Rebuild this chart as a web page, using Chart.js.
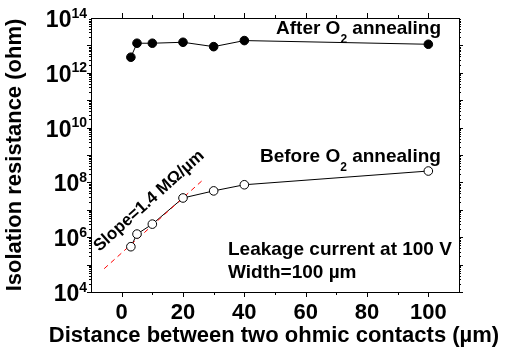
<!DOCTYPE html>
<html>
<head>
<meta charset="utf-8">
<script src="https://cdn.jsdelivr.net/npm/chart.js@4"></script>
<style>
  html, body { margin: 0; padding: 0; background: #fff; }
  canvas { display: block; }
</style>
</head>
<body>
<canvas id="chart" width="508" height="349"></canvas>
<script>
// data
const xAfter = [3, 5, 10, 20, 30, 40, 100];
const yAfter = [3.7e12, 1.2e13, 1.2e13, 1.3e13, 9e12, 1.5e13, 1.1e13];
const xBefore = [3, 5, 10, 20, 30, 40, 100];
const yBefore = [4.5e5, 1.3e6, 3.0e6, 2.7e7, 4.9e7, 8.2e7, 2.6e8];
const xSlope = [-5.7, 26.6];
const ySlope = [7.1e4, 1.26e8];

const xTicks = [0, 20, 40, 60, 80, 100];
const xMinorTicks = [10, 30, 50, 70, 90];
const yTicks = [1e4, 1e6, 1e8, 1e10, 1e12, 1e14];

const FONT = '"Liberation Sans", Arial, sans-serif';

const pts = (xs, ys) => xs.map((x, i) => ({ x, y: ys[i] }));

// parts: [text, size, dy]
function drawParts(ctx, parts, x, y, align) {
  let w = 0;
  parts.forEach(p => {
    ctx.font = `bold ${p[1]}px ${FONT}`;
    w += ctx.measureText(p[0]).width;
  });
  let cx = align === "center" ? x - w / 2 : align === "right" ? x - w : x;
  ctx.textAlign = "left";
  ctx.textBaseline = "alphabetic";
  parts.forEach(p => {
    ctx.font = `bold ${p[1]}px ${FONT}`;
    ctx.fillText(p[0], cx, y + (p[2] || 0));
    cx += ctx.measureText(p[0]).width;
  });
}

const axesPlugin = {
  id: "axes",
  afterDraw(chart) {
    const { ctx, chartArea: a } = chart;
    const xs = chart.scales.x, ys = chart.scales.y;
    ctx.save();
    ctx.strokeStyle = "#000";
    ctx.fillStyle = "#000";
    ctx.lineWidth = 1;
    ctx.strokeRect(a.left + 0.5, a.top + 0.5, a.right - a.left, a.bottom - a.top);

    ctx.beginPath();
    const xTick = (v, len) => {
      const px = Math.round(xs.getPixelForValue(v)) + 0.5;
      ctx.moveTo(px, a.bottom); ctx.lineTo(px, a.bottom + len);
      ctx.moveTo(px, a.top); ctx.lineTo(px, a.top - len);
    };
    const yTick = (v, len) => {
      const py = Math.round(ys.getPixelForValue(v)) + 0.5;
      ctx.moveTo(a.left, py); ctx.lineTo(a.left - len, py);
      ctx.moveTo(a.right, py); ctx.lineTo(a.right + len, py);
    };
    xTicks.forEach(v => xTick(v, 5));
    xMinorTicks.forEach(v => xTick(v, 3));
    for (let d = 4; d < 14; d++) {
      yTick(Math.pow(10, d), 4);
      for (let m = 2; m <= 9; m++) yTick(m * Math.pow(10, d), 2);
    }
    ctx.stroke();

    // tick labels
    xTicks.forEach(v => {
      drawParts(ctx, [[String(v), 22]], xs.getPixelForValue(v), 319, "center");
    });
    yTicks.forEach(v => {
      const py = ys.getPixelForValue(v);
      drawParts(ctx, [["10", 23], [String(Math.round(Math.log10(v))), 14, -9.5]], 87, py + 9, "right");
    });

    // axis titles
    drawParts(ctx, [["Distance between two ohmic contacts (\u00b5m)", 22]], 274, 342, "center");
    ctx.save();
    ctx.translate(20.5, 155);
    ctx.rotate(-Math.PI / 2);
    ctx.font = `bold 22px ${FONT}`;
    ctx.textAlign = "center";
    ctx.textBaseline = "alphabetic";
    ctx.fillText("Isolation resistance (ohm)", 0, 0);
    ctx.restore();

    // annotations
    drawParts(ctx, [["After O", 19], ["2", 12, 9], [" annealing", 19]], 276, 33.5, "left");
    drawParts(ctx, [["Before O", 19], ["2", 12, 9], [" annealing", 19]], 260, 161.5, "left");
    drawParts(ctx, [["Leakage current at 100 V", 19]], 228, 255, "left");
    drawParts(ctx, [["Width=100 \u00b5m", 19]], 228, 278, "left");

    ctx.save();
    ctx.translate(149, 201);
    ctx.rotate(-42 * Math.PI / 180);
    ctx.font = `bold 17px ${FONT}`;
    ctx.textAlign = "center";
    ctx.textBaseline = "middle";
    ctx.fillText("Slope=1.4 M\u03a9/\u00b5m", 0, 0);
    ctx.restore();

    ctx.restore();
  }
};

new Chart(document.getElementById("chart"), {
  type: "scatter",
  data: {
    datasets: [
      {
        data: pts(xAfter, yAfter), showLine: true, order: 1,
        borderColor: "#000", borderWidth: 1,
        pointRadius: 4.3, pointBackgroundColor: "#000", pointBorderColor: "#000", pointBorderWidth: 1
      },
      {
        data: pts(xBefore, yBefore), showLine: false, order: 2,
        pointRadius: 4.3, pointBackgroundColor: "#fff", pointBorderColor: "#000", pointBorderWidth: 1
      },
      {
        data: pts(xSlope, ySlope), showLine: true, order: 3,
        borderColor: "#ff0000", borderWidth: 1, borderDash: [5, 4], pointRadius: 0
      },
      {
        data: pts(xBefore, yBefore), showLine: true, order: 4,
        borderColor: "#000", borderWidth: 1, pointRadius: 0
      }
    ]
  },
  options: {
    responsive: false,
    animation: false,
    layout: { padding: { left: 91, right: 49, top: 18, bottom: 57 } },
    plugins: { legend: { display: false }, tooltip: { enabled: false } },
    scales: {
      x: { type: "linear", min: -10, max: 110, display: false },
      y: { type: "logarithmic", min: 1e4, max: 1e14, display: false }
    }
  },
  plugins: [axesPlugin]
});
</script>
</body>
</html>
